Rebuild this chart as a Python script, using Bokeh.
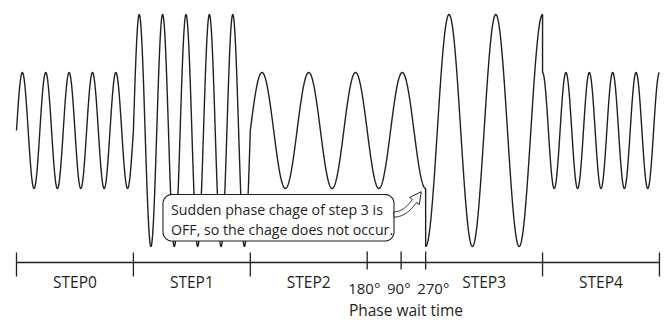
import numpy as np
from bokeh.plotting import figure
from bokeh.models import Range1d
from bokeh.embed import file_html
from bokeh.resources import INLINE
from bokeh.core.properties import value

# ---------------- data ----------------
step_names = ["STEP0", "STEP1", "STEP2", "STEP3", "STEP4"]
seg_start = [0.0, 1.0, 2.0, 3.5, 4.5]        # segment start (step units)
seg_end = [1.0, 2.0, 3.5, 4.5, 5.5]          # segment end
seg_amp = [1.0, 2.0, 1.0, 2.0, 1.0]          # relative amplitude
seg_cycles = [5.0, 5.0, 2.5, 2.5, 5.0]       # cycles per step length
seg_phase_deg = [0, 0, 0, 270, 90]           # phase at segment start
step_ticks = [0.0, 1.0, 2.0, 4.5, 5.5]
step_label_x = [0.5, 1.5, 2.5, 4.0, 5.0]
wait_ticks = [3.0, 3.29, 3.5]
wait_labels = ["180°", "90°", "270°"]
wait_label_x = [2.975, 3.27, 3.565]
callout_lines = ["Sudden phase chage of step 3 is", "OFF, so the chage does not occur."]
axis_title = "Phase wait time"

# ---------------- layout (pixel frame helpers) ----------------
W, H = 670, 320
OX, OY = 0, 0              # page offset of the plot
PX0, SX = 16.0, 116.9      # page x of t=0, px per step
PY0, SY = 130.0, 58.0      # page y of zero level, px per amplitude unit


def tx(px):
    return (np.asarray(px, dtype=float) - PX0) / SX


def vy(py):
    return (PY0 - np.asarray(py, dtype=float)) / SY


INK = "#231f20"
FONT = value("Open Sans")

p = figure(width=W, height=H, output_backend="svg", toolbar_location=None,
           x_range=Range1d(tx(OX), tx(OX + W)), y_range=Range1d(vy(OY + H), vy(OY)),
           x_axis_location=None, y_axis_location=None, min_border=0,
           outline_line_color=None, background_fill_color="white")
p.grid.visible = False

# ---------------- waveform ----------------
xs, ys = [], []
for s, e, a, c, ph in zip(seg_start, seg_end, seg_amp, seg_cycles, seg_phase_deg):
    t = np.linspace(s, e, 600)
    xs.append(t)
    ys.append(a * np.sin(np.deg2rad(ph) + 2 * np.pi * c * (t - s)))
p.line(np.concatenate(xs), np.concatenate(ys), line_color=INK, line_width=1.4)

# ---------------- timeline ----------------
p.line([step_ticks[0], step_ticks[-1]], [vy(262), vy(262)], line_color=INK, line_width=1.3)
p.segment(x0=step_ticks, y0=[vy(252)] * len(step_ticks), x1=step_ticks,
          y1=[vy(276)] * len(step_ticks), line_color=INK, line_width=1.3)
p.segment(x0=wait_ticks, y0=[vy(251)] * len(wait_ticks), x1=wait_ticks,
          y1=[vy(269)] * len(wait_ticks), line_color=INK, line_width=1.3)

p.text(x=step_label_x, y=[vy(281)] * len(step_names), text=step_names,
       text_align="center", text_baseline="middle", text_font=FONT,
       text_font_size="15.5px", text_color=INK)
p.text(x=wait_label_x, y=[vy(287)] * len(wait_labels), text=wait_labels,
       text_align="center", text_baseline="middle", text_font=FONT,
       text_font_size="15px", text_color=INK)
p.text(x=[tx(405.5)], y=[vy(309)], text=[axis_title], text_align="center",
       text_baseline="middle", text_font=FONT, text_font_size="15.5px", text_color=INK)

# ---------------- callout box ----------------
def rounded_rect(x0, y0, x1, y1, r, n=12):
    pts = []
    corners = [(x1 - r, y0 + r, -90, 0), (x1 - r, y1 - r, 0, 90),
               (x0 + r, y1 - r, 90, 180), (x0 + r, y0 + r, 180, 270)]
    for cx, cy, a0, a1 in corners:
        ang = np.deg2rad(np.linspace(a0, a1, n))
        pts += list(zip(cx + r * np.cos(ang), cy + r * np.sin(ang)))
    pts = np.array(pts)
    return pts[:, 0], pts[:, 1]


bx, by = rounded_rect(162.5, 194, 393.5, 240.5, 9)
p.patch(tx(bx), vy(by), fill_color="white", line_color=INK, line_width=1.1)

# curved hollow arrow
P0 = np.array([393.5, 214.0]); P1 = np.array([403.0, 214.0])
P2 = np.array([410.0, 206.0]); P3 = np.array([414.0, 200.5])
s = np.linspace(0, 1, 30)[:, None]
B = (1 - s) ** 3 * P0 + 3 * (1 - s) ** 2 * s * P1 + 3 * (1 - s) * s ** 2 * P2 + s ** 3 * P3
D = 3 * (1 - s) ** 2 * (P1 - P0) + 6 * (1 - s) * s * (P2 - P1) + 3 * s ** 2 * (P3 - P2)
D = D / np.linalg.norm(D, axis=1, keepdims=True)
N = np.column_stack([-D[:, 1], D[:, 0]])
hw, hh, hl = 2.6, 6.0, 11.5
left = B + hw * N
right = B - hw * N
d = D[-1]; q = N[-1]
tip = P3 + hl * d
head = np.array([P3 + hh * q, tip, P3 - hh * q])
poly = np.vstack([left, head, right[::-1]])
p.patch(tx(poly[:, 0]), vy(poly[:, 1]), fill_color="white", line_color=INK, line_width=1.0)

p.text(x=[tx(170.5)] * 2, y=[vy(208.5), vy(228.5)], text=callout_lines,
       text_align="left", text_baseline="middle", text_font=FONT,
       text_font_size="14.2px", text_color=INK)

open("out.html", "w").write(file_html(p, INLINE))
